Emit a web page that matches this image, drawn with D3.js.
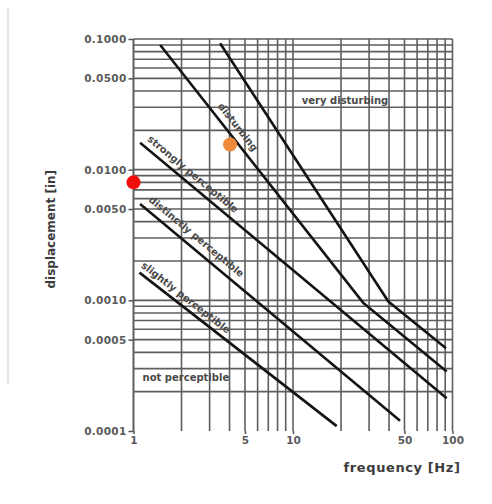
<!DOCTYPE html>
<html>
<head>
<meta charset="utf-8">
<script src="https://cdn.jsdelivr.net/npm/d3@7"></script>
<style>
  body { margin: 0; background: #fff; }
  text { font-family: "DejaVu Sans", sans-serif; }
</style>
</head>
<body>
<div id="my_dataviz"></div>
<script>
// tick values
var freqTicks = [1, 5, 10, 50, 100];
var dispTicks = [0.1, 0.05, 0.01, 0.005, 0.001, 0.0005, 0.0001];

// perception boundaries, [frequency Hz, displacement in]
var veryDisturbing = [[3.49, 0.0927], [39.6, 0.00098], [91.0, 0.00043]];
var disturbing = [[1.47, 0.0900], [27.5, 0.00096], [91.9, 0.000285]];
var stronglyPerceptible = [[1.10, 0.0161], [91.9, 0.000178]];
var distinctlyPerceptible = [[1.10, 0.00546], [46.9, 0.000120]];
var slightlyPerceptible = [[1.09, 0.00163], [18.8, 0.000109]];
var curves = [veryDisturbing, disturbing, stronglyPerceptible, distinctlyPerceptible, slightlyPerceptible];

// region labels: text, anchor (freq, disp), curve to follow (null = horizontal)
var regionNames = ["very disturbing", "disturbing", "strongly perceptible", "distinctly perceptible", "slightly perceptible", "not perceptible"];
var regionFreq = [21.2, 4.52, 2.36, 2.48, 2.13, 2.13];
var regionDisp = [0.0341, 0.0212, 0.00925, 0.00308, 0.00105, 0.000255];
var regionCurve = [null, disturbing, stronglyPerceptible, distinctlyPerceptible, slightlyPerceptible, null];

// measured points
var pointFreq = [1.0, 4.03];
var pointDisp = [0.0080, 0.0156];
var pointColor = ["#f20d0d", "#ef8a3c"];

var margin = {top: 39, right: 39.5, bottom: 73, left: 133.5},
    width = 492 - margin.left - margin.right,
    height = 504 - margin.top - margin.bottom;

var root = d3.select("#my_dataviz")
  .append("svg")
    .attr("width", 492)
    .attr("height", 504);

// faint scan edge
root.append("line")
  .attr("x1", 8).attr("x2", 8).attr("y1", 8).attr("y2", 385)
  .attr("stroke", "#e2e2e2").attr("stroke-width", 1.5);

var svg = root.append("g")
  .attr("transform", "translate(" + margin.left + "," + margin.top + ")");

var x = d3.scaleLog().domain([1, 100]).range([0, width]);
var y = d3.scaleLog().domain([0.0001, 0.1]).range([height, 0]);

// log grid
var xGrid = [], yGrid = [];
[1, 10].forEach(function(d) { for (var k = 1; k <= 9; k++) xGrid.push(d * k); });
xGrid.push(100);
[0.0001, 0.001, 0.01].forEach(function(d) { for (var k = 1; k <= 9; k++) yGrid.push(d * k); });
yGrid.push(0.1);

svg.append("g").selectAll("line")
  .data(xGrid)
  .enter().append("line")
    .attr("x1", function(d) { return x(d); })
    .attr("x2", function(d) { return x(d); })
    .attr("y1", 0)
    .attr("y2", height)
    .attr("stroke", "#5e5e5e")
    .attr("stroke-width", function(d) { return d == 1 ? 2 : 1.6; });

svg.append("g").selectAll("line")
  .data(yGrid.filter(function(d) { return d > 0.0001; }))
  .enter().append("line")
    .attr("x1", 0)
    .attr("x2", width)
    .attr("y1", function(d) { return y(d); })
    .attr("y2", function(d) { return y(d); })
    .attr("stroke", "#5e5e5e")
    .attr("stroke-width", 1.6);

// axes
var yAxis = svg.append("g")
  .call(d3.axisLeft(y).tickValues(dispTicks).tickFormat(d3.format(".4f")).tickSize(5).tickPadding(2));
yAxis.select(".domain").remove();
yAxis.selectAll("line").attr("stroke", "#555").attr("stroke-width", 1.5);
yAxis.selectAll("text")
  .style("font-size", "10.5px")
  .style("font-weight", "bold")
  .style("letter-spacing", "0.3px")
  .attr("fill", "#5a5a5a");

var xAxis = svg.append("g")
  .attr("transform", "translate(0," + height + ")")
  .call(d3.axisBottom(x).tickValues(freqTicks).tickFormat(d3.format("d")).tickSize(3).tickPadding(3));
xAxis.select(".domain").remove();
xAxis.selectAll("line").attr("stroke", "#555").attr("stroke-width", 1.5);
xAxis.selectAll("text")
  .style("font-size", "10.5px")
  .style("font-weight", "bold")
  .attr("fill", "#5a5a5a");

// axis titles
svg.append("text")
  .attr("transform", "rotate(-90)")
  .attr("x", -(y(0.0035)))
  .attr("y", -79)
  .style("text-anchor", "middle")
  .style("font-size", "12px")
  .style("font-weight", "bold")
  .attr("fill", "#3c3c3c")
  .text("displacement  [in]");

svg.append("text")
  .attr("x", width + 8)
  .attr("y", height + 41)
  .style("text-anchor", "end")
  .style("font-size", "13px")
  .style("font-weight", "bold")
  .style("letter-spacing", "0.6px")
  .attr("fill", "#3c3c3c")
  .text("frequency  [Hz]");

// boundary curves
var line = d3.line()
  .x(function(d) { return x(d[0]); })
  .y(function(d) { return y(d[1]); });

svg.append("g").selectAll("path")
  .data(curves)
  .enter().append("path")
    .attr("d", line)
    .attr("fill", "none")
    .attr("stroke", "#141414")
    .attr("stroke-width", 2.6)
    .attr("stroke-linejoin", "round");

// region labels
regionNames.forEach(function(name, i) {
  var px = x(regionFreq[i]), py = y(regionDisp[i]);
  var angle = 0;
  var c = regionCurve[i];
  if (c) {
    angle = Math.atan2(y(c[1][1]) - y(c[0][1]), x(c[1][0]) - x(c[0][0])) * 180 / Math.PI;
  }
  svg.append("text")
    .attr("transform", "translate(" + px + "," + py + ") rotate(" + angle + ")")
    .attr("dy", "0.35em")
    .style("text-anchor", "middle")
    .style("font-size", "10px")
    .style("font-weight", "bold")
    .attr("fill", "#4a4a4a")
    .text(name);
});

// measured points
svg.append("g").selectAll("circle")
  .data(pointFreq)
  .enter().append("circle")
    .attr("cx", function(d) { return x(d); })
    .attr("cy", function(d, i) { return y(pointDisp[i]); })
    .attr("r", 7)
    .attr("fill", function(d, i) { return pointColor[i]; });
</script>
</body>
</html>
